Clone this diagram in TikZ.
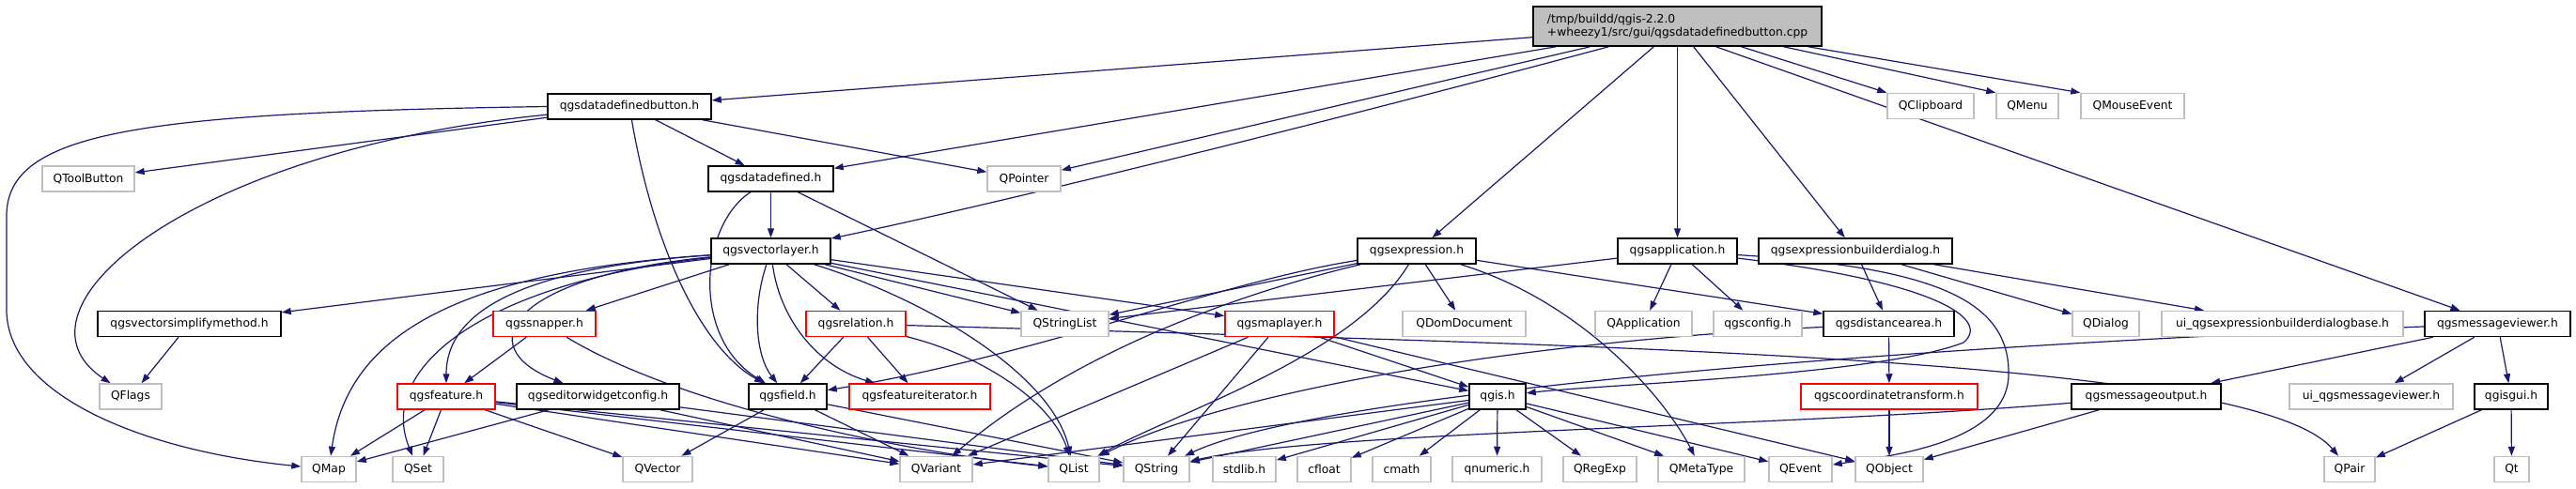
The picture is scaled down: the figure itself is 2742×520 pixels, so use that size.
\documentclass[tikz,border=0pt]{standalone}
\usepackage{fontspec}
\setmainfont{DejaVu Sans}
\usepackage{xcolor}
\usepackage{tikz}
\usetikzlibrary{arrows.meta, backgrounds}
\definecolor{edgeblue}{HTML}{191970}
\definecolor{extgray}{HTML}{BFBFBF}
\definecolor{truncred}{HTML}{FF0000}
\tikzset{
  hdr/.style={draw=black, line width=1.5pt, fill=white, minimum height=27pt,
              inner sep=0pt, font=\fontsize{12.3}{14}\selectfont},
  extnode/.style={hdr, draw=extgray},
  truncnode/.style={hdr, draw=truncred},
  rootnode/.style={hdr, fill=extgray, minimum height=42pt, align=left},
  dep/.style={draw=edgeblue, line width=1.2pt, -{Triangle[length=10pt,width=7pt]}}
}

\begin{document}
\begin{tikzpicture}[x=1pt, y=-1pt]
    \useasboundingbox (0,0) rectangle (2742,520);
    % the source file
    \node[rootnode, minimum width=307pt] (root) at (1785.5,28) {/tmp/buildd/qgis-2.2.0\\+wheezy1/src/gui/qgsdatadefinedbutton.cpp};
    \node[hdr, minimum width=174pt] (dbtnh) at (670,113.5) {qgsdatadefinedbutton.h};
    \node[extnode, minimum width=92pt] (qclipboard) at (2055,113) {QClipboard};
    \node[extnode, minimum width=66pt] (qmenu) at (2158,113) {QMenu};
    \node[extnode, minimum width=110pt] (qmouseevent) at (2270,113) {QMouseEvent};

    \node[extnode, minimum width=98pt] (qtoolbutton) at (94,190.5) {QToolButton};
    \node[hdr, minimum width=133pt] (ddefh) at (820.5,190.5) {qgsdatadefined.h};
    \node[extnode, minimum width=78pt] (qpointer) at (1090,190.5) {QPointer};

    \node[hdr, minimum width=127pt] (vlayer) at (820.5,267.5) {qgsvectorlayer.h};
    \node[hdr, minimum width=126pt] (expr) at (1508,267.5) {qgsexpression.h};
    \node[hdr, minimum width=127pt] (app) at (1785.5,267.5) {qgsapplication.h};
    \node[hdr, minimum width=206pt] (exprdlg) at (1975,267.5) {qgsexpressionbuilderdialog.h};

    \node[hdr, minimum width=195pt] (simplify) at (201.5,345) {qgsvectorsimplifymethod.h};
    \node[truncnode, minimum width=109pt] (snapper) at (579.5,345) {qgssnapper.h};
    \node[truncnode, minimum width=106pt] (relation) at (911,345) {qgsrelation.h};
    \node[extnode, minimum width=93pt] (qstringlist) at (1133.5,345) {QStringList};
    \node[truncnode, minimum width=116pt] (maplayer) at (1362,345) {qgsmaplayer.h};
    \node[extnode, minimum width=131pt] (qdomdocument) at (1558.5,345) {QDomDocument};
    \node[extnode, minimum width=103pt] (qapplication) at (1749.5,345) {QApplication};
    \node[extnode, minimum width=94pt] (qgsconfig) at (1871,345) {qgsconfig.h};
    \node[hdr, minimum width=139pt] (distarea) at (2010.5,345) {qgsdistancearea.h};
    \node[extnode, minimum width=71pt] (qdialog) at (2241.5,345) {QDialog};
    \node[extnode, minimum width=257pt] (uiexpr) at (2429.5,345) {ui\_qgsexpressionbuilderdialogbase.h};
    \node[hdr, minimum width=155pt] (msgviewer) at (2658.5,345) {qgsmessageviewer.h};

    \node[extnode, minimum width=66pt] (qflags) at (139,422.5) {QFlags};
    \node[truncnode, minimum width=104pt] (feature) at (475,422.5) {qgsfeature.h};
    \node[hdr, minimum width=173pt] (editorcfg) at (636.5,422.5) {qgseditorwidgetconfig.h};
    \node[hdr, minimum width=83pt] (field) at (838.5,422.5) {qgsfield.h};
    \node[truncnode, minimum width=150pt] (featit) at (979,422.5) {qgsfeatureiterator.h};
    \node[hdr, minimum width=60pt] (qgis) at (1594,422.5) {qgis.h};
    \node[truncnode, minimum width=188pt] (coordtr) at (2011,422.5) {qgscoordinatetransform.h};
    \node[hdr, minimum width=159pt] (msgoutput) at (2284.5,422.5) {qgsmessageoutput.h};
    \node[extnode, minimum width=174pt] (uimsgviewer) at (2524,422.5) {ui\_qgsmessageviewer.h};
    \node[hdr, minimum width=78pt] (qgisgui) at (2673,422.5) {qgisgui.h};

    \node[extnode, minimum width=58pt] (qmap) at (350,500) {QMap};
    \node[extnode, minimum width=54pt] (qset) at (445,500) {QSet};
    \node[extnode, minimum width=74pt] (qvector) at (700,500) {QVector};
    \node[extnode, minimum width=77pt] (qvariant) at (996.5,500) {QVariant};
    \node[extnode, minimum width=54pt] (qlist) at (1143,500) {QList};
    \node[extnode, minimum width=70pt] (qstring) at (1231,500) {QString};
    \node[extnode, minimum width=67pt] (stdlib) at (1324.5,500) {stdlib.h};
    \node[extnode, minimum width=57pt] (cfloat) at (1409.5,500) {cfloat};
    \node[extnode, minimum width=62pt] (cmath) at (1492,500) {cmath};
    \node[extnode, minimum width=95pt] (qnumeric) at (1593.5,500) {qnumeric.h};
    \node[extnode, minimum width=78pt] (qregexp) at (1703,500) {QRegExp};
    \node[extnode, minimum width=92pt] (qmetatype) at (1811,500) {QMetaType};
    \node[extnode, minimum width=67pt] (qevent) at (1916.5,500) {QEvent};
    \node[extnode, minimum width=72pt] (qobject) at (2011,500) {QObject};
    \node[extnode, minimum width=54pt] (qpair) at (2501,500) {QPair};
    \node[extnode, minimum width=37pt] (qt) at (2673.5,500) {Qt};

    \begin{scope}[on background layer]
      \fill[white] (0,0) rectangle (2742,520);
      % includes of the source file
      \draw[dep] (root) -- (dbtnh);
      \draw[dep] (root) -- (ddefh);
      \draw[dep] (root) -- (qpointer);
      \draw[dep] ([xshift=-73pt]root.south) .. controls (1300,160) and (1000,230) .. (vlayer);
      \draw[dep] (root) -- (expr);
      \draw[dep] (root) -- (app);
      \draw[dep] (root) -- (exprdlg);
      \draw[dep] ([xshift=41pt]root.south) -- (msgviewer);
      \draw[dep] ([xshift=68pt]root.south) -- (qclipboard.north west);
      \draw[dep] ([xshift=113pt]root.south) -- (qmenu.north west);
      \draw[dep] ([xshift=139pt]root.south) -- (qmouseevent.north west);
      % qgsdatadefinedbutton.h
      \draw[dep] (dbtnh) -- (qtoolbutton);
      \draw[dep] (dbtnh.west) .. controls (150,120) and (7,140) .. (7,230) -- (7,330) .. controls (7,420) and (150,480) .. (qmap);
      \draw[dep] (dbtnh) .. controls (200,160) and (0,330) .. (qflags);
      \draw[dep] (dbtnh) -- (ddefh);
      \draw[dep] (dbtnh) -- (qpointer);
      \draw[dep] (dbtnh) .. controls (695,260) and (745,370) .. (field);
      % qgsdatadefined.h
      \draw[dep] (ddefh) -- (vlayer);
      \draw[dep] (ddefh) .. controls (745,240) and (735,360) .. (field);
      \draw[dep] (ddefh) -- (qstringlist);
      % qgsvectorlayer.h
      \draw[dep] (vlayer) -- (simplify);
      \draw[dep] (vlayer) .. controls (480,290) and (370,360) .. (qmap);
      \draw[dep] (vlayer) .. controls (520,300) and (400,390) .. (qset);
      \draw[dep] (vlayer) .. controls (560,285) and (475,330) .. (feature);
      \draw[dep] (vlayer) .. controls (540,295) and (500,370) .. (editorcfg);
      \draw[dep] (vlayer) -- (snapper);
      \draw[dep] (vlayer) .. controls (800,330) and (805,380) .. (field);
      \draw[dep] (vlayer) .. controls (830,340) and (870,390) .. (featit);
      \draw[dep] (vlayer) -- (relation);
      \draw[dep] (vlayer) .. controls (990,320) and (1120,400) .. (qlist);
      \draw[dep] (vlayer) -- (qstringlist);
      \draw[dep] (vlayer) -- (qgis);
      \draw[dep] (vlayer) -- (maplayer);
      \draw[dep] (simplify) -- (qflags);
      \draw[dep] (snapper) -- (feature);
      \draw[dep] (snapper) .. controls (720,430) and (950,480) .. (qlist);
      % qgsfeature.h, qgseditorwidgetconfig.h, qgsfield.h
      \draw[dep] (feature) -- (qmap);
      \draw[dep] (feature) -- (qset);
      \draw[dep] (feature) -- (qvector);
      \draw[dep] (feature) -- (qvariant);
      \draw[dep] (feature) -- (qlist);
      \draw[dep] (feature) -- (qstring);
      \draw[dep] (editorcfg) -- (qmap);
      \draw[dep] (editorcfg) -- (qvariant);
      \draw[dep] (editorcfg) -- (qstring);
      \draw[dep] (field) -- (qvector);
      \draw[dep] (field) -- (qvariant);
      \draw[dep] (field) -- (qstring);
      % qgsrelation.h, qgsmaplayer.h
      \draw[dep] (relation) -- (field);
      \draw[dep] (relation) -- (featit);
      \draw[dep] (relation) .. controls (1050,380) and (1120,430) .. (qlist);
      \draw[dep] (relation) .. controls (1700,368) and (2400,380) .. (qpair);
      \draw[dep] (maplayer) -- (qvariant);
      \draw[dep] (maplayer) -- (qstring);
      \draw[dep] (maplayer) -- (qgis);
      \draw[dep] (maplayer) -- (qobject);
      % qgsexpression.h
      \draw[dep] (expr) -- (qstringlist);
      \draw[dep] (expr) .. controls (1300,300) and (1100,380) .. (field);
      \draw[dep] (expr) .. controls (1330,310) and (1150,370) .. (qvariant);
      \draw[dep] (expr) .. controls (1440,380) and (1250,440) .. (qlist);
      \draw[dep] (expr) -- (qdomdocument);
      \draw[dep] (expr) .. controls (1680,320) and (1770,420) .. (qmetatype);
      \draw[dep] (expr) -- (distarea);
      % qgsapplication.h
      \draw[dep] (app) -- (qstringlist);
      \draw[dep] (app) -- (qapplication);
      \draw[dep] (app) -- (qgsconfig);
      \draw[dep] (app) .. controls (2060,300) and (2120,340) .. (2090,365) .. controls (2000,400) and (1700,410) .. (qgis);
      \draw[dep] (app) .. controls (2060,285) and (2140,320) .. (2138,400) .. controls (2136,470) and (2020,485) .. (qevent);
      % qgsexpressionbuilderdialog.h, qgsdistancearea.h
      \draw[dep] (exprdlg) -- (distarea);
      \draw[dep] (exprdlg) -- (qdialog);
      \draw[dep] (exprdlg) -- (uiexpr);
      \draw[dep] (distarea) -- (coordtr);
      \draw[dep] (distarea) .. controls (1600,365) and (1300,420) .. (qlist);
      \draw[dep] (coordtr) -- (qobject);
      % qgis.h
      \draw[dep] (qgis) -- (qvariant);
      \draw[dep] (qgis) -- (qstring);
      \draw[dep] (qgis) -- (stdlib);
      \draw[dep] (qgis) -- (cfloat);
      \draw[dep] (qgis) -- (cmath);
      \draw[dep] (qgis) -- (qnumeric);
      \draw[dep] (qgis) -- (qregexp);
      \draw[dep] (qgis) -- (qmetatype);
      \draw[dep] (qgis) -- (qevent);
      % qgsmessageviewer.h
      \draw[dep] (msgviewer) -- (msgoutput);
      \draw[dep] (msgviewer) -- (uimsgviewer);
      \draw[dep] (msgviewer) -- (qgisgui);
      \draw[dep] (msgviewer) .. controls (2000,370) and (1400,420) .. (qstring);
      \draw[dep] (msgoutput) .. controls (1900,455) and (1400,460) .. (qstring);
      \draw[dep] (msgoutput) -- (qobject);
      \draw[dep] (qgisgui) -- (qpair);
      \draw[dep] (qgisgui) -- (qt);
    \end{scope}
\end{tikzpicture}
\end{document}
